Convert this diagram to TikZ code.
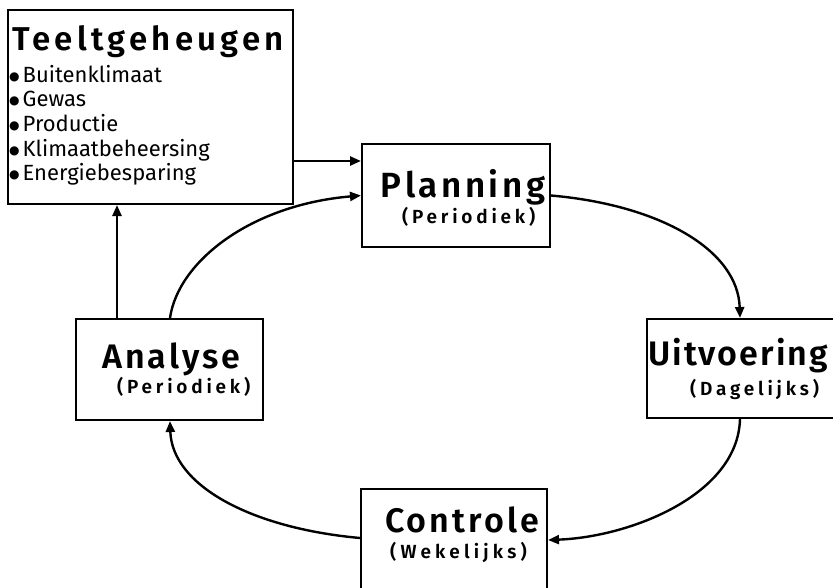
\documentclass[tikz,border=0pt]{standalone}
\usepackage{fontspec}
\setmainfont{Fira Sans}
\newfontfamily\semib{Fira Sans SemiBold}
\newfontfamily\dejavu{DejaVu Sans}
\usetikzlibrary{arrows.meta}
\newcommand{\bul}{\raisebox{1.2pt}{\dejavu\fontsize{12}{12}\selectfont ●}\kern3pt}
\begin{document}
\begin{tikzpicture}[x=1pt,y=-1pt,
  box/.style={draw,line width=2pt,inner sep=0pt},
  conn/.style={line width=2.4pt,-{Triangle[length=11pt,width=9pt]}},
  ttl/.style={anchor=base west,inner sep=0pt},
  sub/.style={anchor=base west,inner sep=0pt,font=\semib\fontsize{19}{19}\selectfont\addfontfeature{LetterSpace=20}},
  itm/.style={anchor=base west,inner sep=0pt,font=\fontsize{22}{22}\selectfont}
]
\useasboundingbox (0,0) rectangle (833,587);
% boxes
\node[box,minimum width=285pt,minimum height=194pt] (teelt) at (150.5,107) {};
\node[box,minimum width=188pt,minimum height=103pt] (plan) at (456,195.5) {};
\node[box,minimum width=200pt,minimum height=99pt] (uitv) at (747,368.5) {};
\node[box,minimum width=186pt,minimum height=110pt] (contr) at (454,544) {};
\node[box,minimum width=187pt,minimum height=101pt] (anal) at (169.5,369.5) {};
% texts
\node[ttl,font=\semib\fontsize{33}{33}\selectfont\addfontfeature{LetterSpace=13}] (t1) at (12,50) {Teeltgeheugen};
\node[itm] (i1) at (9,82) {\bul Buitenklimaat};
\node[itm] (i2) at (9,106) {\bul Gewas};
\node[itm] (i3) at (9,131) {\bul Productie};
\node[itm] (i4) at (9,156) {\bul Klimaatbeheersing};
\node[itm] (i5) at (9,180) {\bul Energiebesparing};
\node[ttl,font=\semib\fontsize{35}{35}\selectfont\addfontfeature{LetterSpace=10}] (p1) at (380,197) {P\kern4pt lanning};
\node[sub] (p2) at (402,223) {(Periodiek)};
\node[ttl,font=\semib\fontsize{34}{34}\selectfont\addfontfeature{LetterSpace=6}] (u1) at (648,365) {Uitvoering};
\node[sub] (u2) at (690,395) {(Dagelijks)};
\node[ttl,font=\semib\fontsize{34}{34}\selectfont\addfontfeature{LetterSpace=9}] (c1) at (385,532) {Controle};
\node[sub,font=\semib\fontsize{19}{19}\selectfont\addfontfeature{LetterSpace=22}] (c2) at (390,558) {(Wekelijks)};
\node[ttl,font=\semib\fontsize{34}{34}\selectfont\addfontfeature{LetterSpace=9}] (a1) at (102,368) {Analys\kern3pt e};
\node[sub] (a2) at (117,393) {(Periodiek)};
% helper coordinates
\coordinate (ya) at (0,161);
\coordinate (xa) at (117,0);
\coordinate (xb) at (170,0);
\coordinate (xc) at (740,0);
\coordinate (yc) at (0,538);
\coordinate (yd) at (0,540);
% connectors
\draw[conn] (teelt.east |- ya) -- (plan.west |- ya);
\draw[conn] (anal.north -| xa) -- (teelt.south -| xa);
\draw[conn] (anal.north -| xb) .. controls (178,262) and (250,205) .. (plan.west);
\draw[conn] (plan.east) .. controls (660,205) and (738,250) .. (uitv.north -| xc);
\draw[conn] (uitv.south -| xc) .. controls (738,495) and (630,537) .. (contr.east |- yd);
\draw[conn] (contr.west |- yc) .. controls (250,528) and (172,485) .. (anal.south -| xb);
\end{tikzpicture}
\end{document}
